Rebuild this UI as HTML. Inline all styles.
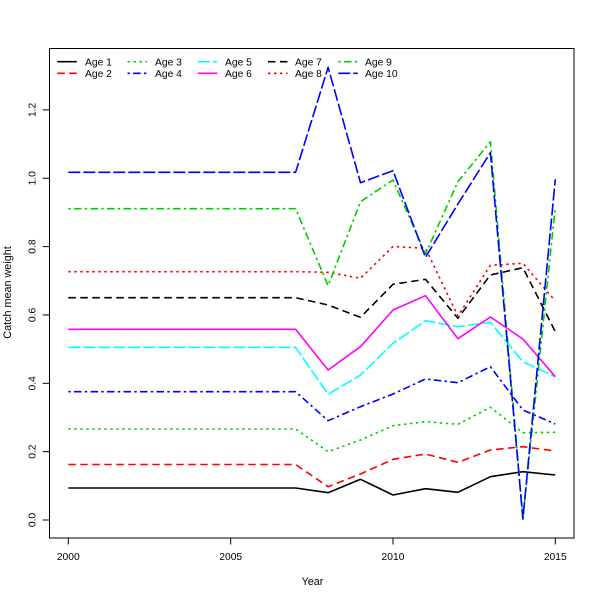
<!DOCTYPE html>
<html>
<head>
<meta charset="utf-8">
<style>
  html, body { margin: 0; padding: 0; background: #ffffff; }
  svg { display: block; }
  text { font-family: "Liberation Sans", Arial, sans-serif; fill: #000; }
</style>
</head>
<body>
<svg width="600" height="600" viewBox="0 0 600 600" xmlns="http://www.w3.org/2000/svg">
  <rect x="0" y="0" width="600" height="600" fill="#ffffff"/>

  <!-- series -->
  <g fill="none" stroke-width="1.6" stroke-linejoin="round" stroke-linecap="butt">
    <!-- Age 1 black solid -->
    <polyline stroke="#000000"
      points="68.3,488 100.8,488 133.2,488 165.7,488 198.2,488 230.7,488 263.1,488 295.6,488 328.1,492.7 360.5,479.3 393,495 425.5,488.7 457.9,492.3 490.4,476.7 522.9,471.7 555.3,475"/>
    <!-- Age 2 red dashed -->
    <polyline stroke="#FF0000" stroke-dasharray="7.5,4.5"
      points="68.3,464.5 100.8,464.5 133.2,464.5 165.7,464.5 198.2,464.5 230.7,464.5 263.1,464.5 295.6,464.5 328.1,486.7 360.5,474 393,459.3 425.5,454 457.9,462.3 490.4,450 522.9,446.7 555.3,451"/>
    <!-- Age 3 green dotted -->
    <polyline stroke="#00CD00" stroke-dasharray="2.4,3.6"
      points="68.3,429 100.8,429 133.2,429 165.7,429 198.2,429 230.7,429 263.1,429 295.6,429 328.1,451.7 360.5,440 393,425.7 425.5,421.7 457.9,424.3 490.4,407.3 522.9,432.7 555.3,432.3"/>
    <!-- Age 4 blue dotdash -->
    <polyline stroke="#0000FF" stroke-dasharray="2.4,3.3,7.5,3.3"
      points="68.3,391.7 100.8,391.7 133.2,391.7 165.7,391.7 198.2,391.7 230.7,391.7 263.1,391.7 295.6,391.7 328.1,420.7 360.5,406.7 393,394 425.5,379 457.9,382.7 490.4,366.7 522.9,410 555.3,424"/>
    <!-- Age 5 cyan longdash -->
    <polyline stroke="#00FFFF" stroke-dasharray="12,3"
      points="68.3,347.3 100.8,347.3 133.2,347.3 165.7,347.3 198.2,347.3 230.7,347.3 263.1,347.3 295.6,347.3 328.1,394.3 360.5,375 393,343.3 425.5,320.7 457.9,326.7 490.4,322.3 522.9,361.7 555.3,376.7"/>
    <!-- Age 6 magenta solid -->
    <polyline stroke="#FF00FF"
      points="68.3,329.3 100.8,329.3 133.2,329.3 165.7,329.3 198.2,329.3 230.7,329.3 263.1,329.3 295.6,329.3 328.1,370 360.5,346.7 393,310 425.5,295.7 457.9,338.7 490.4,317 522.9,339 555.3,376.7"/>
    <!-- Age 7 black dashed -->
    <polyline stroke="#000000" stroke-dasharray="7.5,4.5"
      points="68.3,297.7 100.8,297.7 133.2,297.7 165.7,297.7 198.2,297.7 230.7,297.7 263.1,297.7 295.6,297.7 328.1,305 360.5,317.3 393,284.3 425.5,279.3 457.9,318.3 490.4,275 522.9,267.7 555.3,331.7"/>
    <!-- Age 8 red dotted -->
    <polyline stroke="#FF0000" stroke-dasharray="2.4,3.6"
      points="68.3,271.7 100.8,271.7 133.2,271.7 165.7,271.7 198.2,271.7 230.7,271.7 263.1,271.7 295.6,271.7 328.1,272.3 360.5,278.3 393,246.5 425.5,248.3 457.9,316 490.4,265.3 522.9,263.3 555.3,301"/>
    <!-- Age 9 green dotdash -->
    <polyline stroke="#00CD00" stroke-dasharray="2.4,3.3,7.5,3.3"
      points="68.3,208.7 100.8,208.7 133.2,208.7 165.7,208.7 198.2,208.7 230.7,208.7 263.1,208.7 295.6,208.7 328.1,285.7 360.5,201.7 393,180 425.5,254 457.9,181.7 490.4,141.7 522.9,518 555.3,207"/>
    <!-- Age 10 blue longdash -->
    <polyline stroke="#0000FF" stroke-dasharray="12,3"
      points="68.3,172.3 100.8,172.3 133.2,172.3 165.7,172.3 198.2,172.3 230.7,172.3 263.1,172.3 295.6,172.3 328.1,67.3 360.5,182.7 393,170.7 425.5,257.3 457.9,204 490.4,152.7 522.9,519 555.3,179.3"/>
  </g>

  <!-- plot box -->
  <rect x="49.5" y="48.5" width="524.5" height="489.5" fill="none" stroke="#000" stroke-width="1"/>

  <!-- x ticks -->
  <g stroke="#000" stroke-width="1">
    <line x1="68.3" y1="538" x2="68.3" y2="544.5"/>
    <line x1="230.7" y1="538" x2="230.7" y2="544.5"/>
    <line x1="393" y1="538" x2="393" y2="544.5"/>
    <line x1="555.3" y1="538" x2="555.3" y2="544.5"/>
  </g>
  <g font-size="10.3" text-anchor="middle">
    <text x="68.3" y="560">2000</text>
    <text x="230.7" y="560">2005</text>
    <text x="393" y="560">2010</text>
    <text x="555.3" y="560">2015</text>
  </g>

  <!-- y ticks -->
  <g stroke="#000" stroke-width="1">
    <line x1="42.7" y1="520" x2="49.5" y2="520"/>
    <line x1="42.7" y1="451.65" x2="49.5" y2="451.65"/>
    <line x1="42.7" y1="383.3" x2="49.5" y2="383.3"/>
    <line x1="42.7" y1="314.95" x2="49.5" y2="314.95"/>
    <line x1="42.7" y1="246.6" x2="49.5" y2="246.6"/>
    <line x1="42.7" y1="178.25" x2="49.5" y2="178.25"/>
    <line x1="42.7" y1="109.9" x2="49.5" y2="109.9"/>
  </g>
  <g font-size="10.3" text-anchor="middle">
    <text transform="translate(35.7,520) rotate(-90)">0.0</text>
    <text transform="translate(35.7,451.65) rotate(-90)">0.2</text>
    <text transform="translate(35.7,383.3) rotate(-90)">0.4</text>
    <text transform="translate(35.7,314.95) rotate(-90)">0.6</text>
    <text transform="translate(35.7,246.6) rotate(-90)">0.8</text>
    <text transform="translate(35.7,178.25) rotate(-90)">1.0</text>
    <text transform="translate(35.7,109.9) rotate(-90)">1.2</text>
  </g>

  <!-- axis titles -->
  <text x="312.5" y="585" font-size="10.8" text-anchor="middle">Year</text>
  <text transform="translate(10.8,292.5) rotate(-90)" font-size="10.8" text-anchor="middle">Catch mean weight</text>

  <!-- legend -->
  <g fill="none" stroke-width="1.6" stroke-linecap="butt">
    <line x1="57.3" y1="61.7" x2="76.8" y2="61.7" stroke="#000000"/>
    <line x1="57.3" y1="73.3" x2="76.8" y2="73.3" stroke="#FF0000" stroke-dasharray="7.5,4.5"/>
    <line x1="127.5" y1="61.7" x2="147" y2="61.7" stroke="#00CD00" stroke-dasharray="2.4,3.6"/>
    <line x1="127.5" y1="73.3" x2="147" y2="73.3" stroke="#0000FF" stroke-dasharray="2.4,3.3,7.5,3.3"/>
    <line x1="197.8" y1="61.7" x2="217.3" y2="61.7" stroke="#00FFFF" stroke-dasharray="12,3"/>
    <line x1="197.8" y1="73.3" x2="217.3" y2="73.3" stroke="#FF00FF"/>
    <line x1="268" y1="61.7" x2="287.5" y2="61.7" stroke="#000000" stroke-dasharray="7.5,4.5"/>
    <line x1="268" y1="73.3" x2="287.5" y2="73.3" stroke="#FF0000" stroke-dasharray="2.4,3.6"/>
    <line x1="338.3" y1="61.7" x2="357.8" y2="61.7" stroke="#00CD00" stroke-dasharray="2.4,3.3,7.5,3.3"/>
    <line x1="338.3" y1="73.3" x2="357.8" y2="73.3" stroke="#0000FF" stroke-dasharray="12,3"/>
  </g>
  <g font-size="10.3">
    <text x="85" y="65.4">Age 1</text>
    <text x="85" y="77">Age 2</text>
    <text x="155" y="65.4">Age 3</text>
    <text x="155" y="77">Age 4</text>
    <text x="225" y="65.4">Age 5</text>
    <text x="225" y="77">Age 6</text>
    <text x="295" y="65.4">Age 7</text>
    <text x="295" y="77">Age 8</text>
    <text x="365" y="65.4">Age 9</text>
    <text x="365" y="77">Age 10</text>
  </g>
</svg>
</body>
</html>
